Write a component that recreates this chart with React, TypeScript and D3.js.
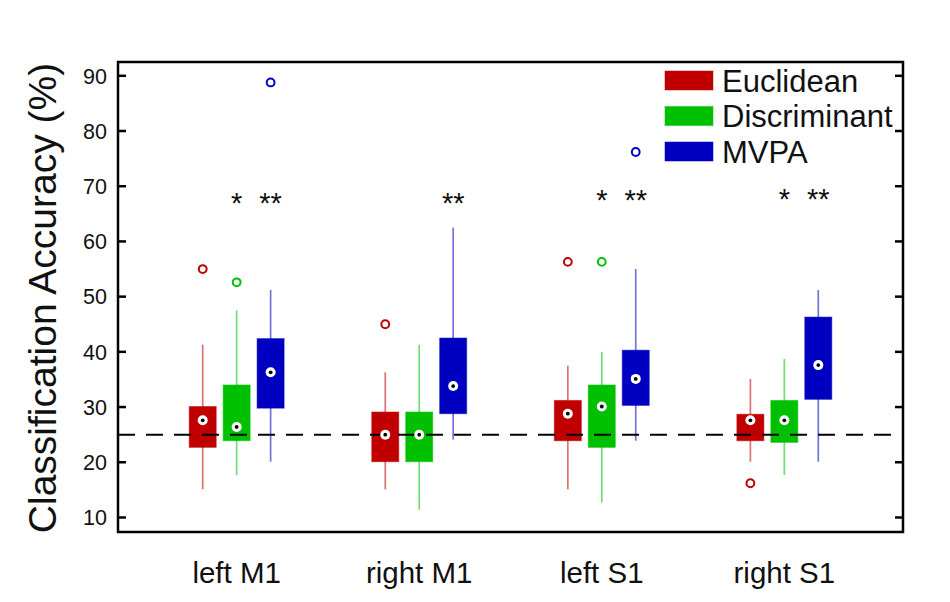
import React from "react";
import * as d3 from "d3";

const groups = ["left M1", "right M1", "left S1", "right S1"];
const methods = ["Euclidean", "Discriminant", "MVPA"];
const colors = ["#c00000", "#00c000", "#0000c0"];

// [whisker low, q1, median, q3, whisker high] per group
const euclideanBox = [
  [15.1, 22.7, 27.6, 30.1, 41.3],
  [15.1, 20.1, 25.0, 29.1, 36.3],
  [15.1, 23.9, 28.8, 31.2, 37.5],
  [20.1, 23.9, 27.6, 28.7, 35.1],
];
const discriminantBox = [
  [17.7, 23.9, 26.4, 34.0, 47.5],
  [11.4, 20.1, 25.0, 29.1, 41.3],
  [12.7, 22.7, 30.1, 34.0, 40.0],
  [17.7, 23.6, 27.6, 31.2, 38.7],
];
const mvpaBox = [
  [20.1, 29.8, 36.3, 42.4, 51.2],
  [24.1, 28.8, 33.8, 42.5, 62.5],
  [23.9, 30.3, 35.1, 40.3, 55.0],
  [20.1, 31.4, 37.6, 46.3, 51.2],
];

const euclideanOutliers = [[55.0], [45.0], [56.3], [16.2]];
const discriminantOutliers = [[52.6], [], [56.3], []];
const mvpaOutliers = [[88.8], [], [76.2], []];

const stars = [
  ["", "*", "**"],
  ["", "", "**"],
  ["", "*", "**"],
  ["", "*", "**"],
];
const starLevel = [67.4, 67.4, 67.8, 68.0];

const chance = 25;
const yTicks = [10, 20, 30, 40, 50, 60, 70, 80, 90];

const boxes = [euclideanBox, discriminantBox, mvpaBox];
const outliers = [euclideanOutliers, discriminantOutliers, mvpaOutliers];

const W = 950;
const H = 602;
const left = 118, right = 903, top = 62, bottom = 532;
const font = "'Liberation Sans', Arial, Helvetica, sans-serif";

export default function App() {
  const x = d3.scaleLinear().domain([0.35, 4.65]).range([left, right]);
  const y = d3.scaleLinear().domain([7.37, 92.5]).range([bottom, top]);
  const offset = 0.186;
  const boxW = x(0.148) - x(0);
  const pos = (g: number, m: number) => x(g + 1 + (m - 1) * offset);

  return (
    <svg
      width={W}
      height={H}
      style={{ position: "absolute", left: 0, top: 0, background: "#fff" }}
      fontFamily={font}
    >
      {/* whiskers */}
      {boxes.map((bm, m) =>
        bm.map((s, g) => (
          <line
            key={`w${m}${g}`}
            x1={pos(g, m)}
            x2={pos(g, m)}
            y1={y(s[0])}
            y2={y(s[4])}
            stroke={colors[m]}
            strokeOpacity={0.55}
            strokeWidth={1.7}
          />
        ))
      )}
      {/* boxes */}
      {boxes.map((bm, m) =>
        bm.map((s, g) => (
          <rect
            key={`b${m}${g}`}
            x={pos(g, m) - boxW / 2}
            y={y(s[3])}
            width={boxW}
            height={y(s[1]) - y(s[3])}
            fill={colors[m]}
            stroke={colors[m]}
            strokeOpacity={0.5}
            strokeWidth={1}
          />
        ))
      )}
      {/* chance level */}
      <line
        x1={left}
        x2={right}
        y1={y(chance)}
        y2={y(chance)}
        stroke="#000"
        strokeWidth={2}
        strokeDasharray="17 11"
      />
      {/* medians */}
      {boxes.map((bm, m) =>
        bm.map((s, g) => (
          <g key={`m${m}${g}`}>
            <circle cx={pos(g, m)} cy={y(s[2])} r={5} fill="#fff" />
            <circle cx={pos(g, m)} cy={y(s[2])} r={1.9} fill="#000" />
          </g>
        ))
      )}
      {/* outliers */}
      {outliers.map((om, m) =>
        om.map((vals, g) =>
          vals.map((v, i) => (
            <circle
              key={`o${m}${g}${i}`}
              cx={pos(g, m)}
              cy={y(v)}
              r={3.9}
              fill="none"
              stroke={colors[m]}
              strokeWidth={2}
            />
          ))
        )
      )}
      {/* significance */}
      {stars.map((row, g) =>
        row.map((s, m) =>
          s ? (
            <text
              key={`s${g}${m}`}
              x={pos(g, m)}
              y={y(starLevel[g]) + 12}
              textAnchor="middle"
              fontSize={29}
              fill="#111"
            >
              {s}
            </text>
          ) : null
        )
      )}
      {/* frame */}
      <rect
        x={left}
        y={top}
        width={right - left}
        height={bottom - top}
        fill="none"
        stroke="#000"
        strokeWidth={2.5}
      />
      {yTicks.map((t) => (
        <g key={`t${t}`}>
          <line x1={left} x2={left + 8} y1={y(t)} y2={y(t)} stroke="#000" strokeWidth={2.5} />
          <line x1={right - 8} x2={right} y1={y(t)} y2={y(t)} stroke="#000" strokeWidth={2.5} />
          <text
            x={left - 11}
            y={y(t)}
            dy="0.36em"
            textAnchor="end"
            fontSize={21.5}
            fill="#111"
          >
            {t}
          </text>
        </g>
      ))}
      {groups.map((gname, g) => (
        <text
          key={gname}
          x={x(g + 1)}
          y={583}
          textAnchor="middle"
          fontSize={29.5}
          fill="#111"
        >
          {gname}
        </text>
      ))}
      <text
        transform={`translate(56, ${(top + bottom) / 2 + 1}) rotate(-90)`}
        textAnchor="middle"
        fontSize={39}
        fill="#111"
      >
        Classification Accuracy (%)
      </text>
      {/* legend */}
      {methods.map((name, m) => (
        <g key={name} transform={`translate(665, ${71 + m * 35.5})`}>
          <rect width={48} height={19} fill={colors[m]} stroke={colors[m]} strokeOpacity={0.5} />
          <text x={57} y={20.5} fontSize={31} fill="#111">
            {name}
          </text>
        </g>
      ))}
    </svg>
  );
}
